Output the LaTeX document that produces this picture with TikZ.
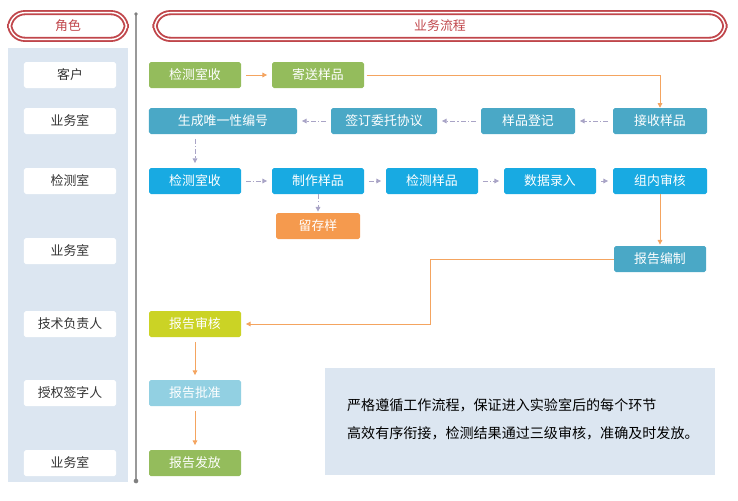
\documentclass[tikz,border=0pt]{standalone}
\usepackage{fontspec}
\setmainfont{Noto Sans CJK SC}
\usetikzlibrary{arrows.meta}
\definecolor{hdr}{HTML}{C0464B}
\definecolor{panel}{HTML}{DCE6F1}
\definecolor{cli}{HTML}{94BC5C}
\definecolor{biz}{HTML}{4AA8C6}
\definecolor{lab}{HTML}{18AAE2}
\definecolor{keep}{HTML}{F59A4E}
\definecolor{chk}{HTML}{CBD325}
\definecolor{apr}{HTML}{92D0E2}
\definecolor{oarr}{HTML}{F4A460}
\definecolor{garr}{HTML}{A9A4C6}
\tikzset{hdr/.style={draw=hdr,line width=1.6pt,double=white,double distance=1.2pt,rounded corners=13pt,minimum height=0.8cm,text=hdr,font=\fontsize{11}{13}\selectfont}}
\tikzset{role/.style={fill=white,rounded corners=1.5pt,minimum width=2.76cm,minimum height=0.78cm,text=black!80,font=\fontsize{11}{13}\selectfont}}
\tikzset{flowbox/.style={text=white,rounded corners=1.5pt,minimum height=0.78cm,font=\fontsize{11}{13}\selectfont}}
\tikzset{cli/.style={flowbox,fill=cli}}
\tikzset{biz/.style={flowbox,fill=biz}}
\tikzset{lab/.style={flowbox,fill=lab}}
\tikzset{keep/.style={flowbox,fill=keep}}
\tikzset{chk/.style={flowbox,fill=chk}}
\tikzset{apr/.style={flowbox,fill=apr}}
\tikzset{oa/.style={->,>={Triangle[length=4pt,width=4pt]},draw=oarr,line width=0.8pt,shorten >=4pt,shorten <=4pt}}
\tikzset{ga/.style={->,>={Triangle[length=4pt,width=4pt]},draw=garr,line width=0.8pt,dash pattern=on 4pt off 2pt on 1pt off 2pt,shorten >=4pt,shorten <=4pt}}
\begin{document}
\begin{tikzpicture}[x=0.03cm,y=-0.03cm]
    \useasboundingbox (0,0) rectangle (738,500);
    \fill[panel] (8,48) rectangle (128,482);
    \fill[panel] (325,368) rectangle (715,475);

    \node[hdr,minimum width=3.5cm] (hrole) at (68,26) {角色};
    \node[hdr,minimum width=17.1cm] (hflow) at (440,26) {业务流程};

    \coordinate (ltop) at (136,14);
    \coordinate (lbot) at (136,481);
    \draw[gray!80,line width=1.5pt] (ltop) -- (lbot);
    \fill[gray] (ltop) circle (1.6pt) (lbot) circle (2pt);

    \node[role] (r1) at (70,75) {客户};
    \node[role] (r2) at (70,121) {业务室};
    \node[role] (r3) at (70,181) {检测室};
    \node[role] (r4) at (70,251) {业务室};
    \node[role] (r5) at (70,324) {技术负责人};
    \node[role] (r6) at (70,393) {授权签字人};
    \node[role] (r7) at (70,463) {业务室};

    \node[cli,minimum width=2.76cm] (recv1) at (195,75) {检测室收};
    \node[cli,minimum width=2.76cm] (send) at (318,75) {寄送样品};

    \node[biz,minimum width=4.44cm] (code) at (223,121) {生成唯一性编号};
    \node[biz,minimum width=3.18cm] (sign) at (384,121) {签订委托协议};
    \node[biz,minimum width=2.82cm] (reg) at (528,121) {样品登记};
    \node[biz,minimum width=2.82cm] (accept) at (660,121) {接收样品};

    \node[lab,minimum width=2.76cm] (recv2) at (195,181) {检测室收};
    \node[lab,minimum width=2.76cm] (make) at (318,181) {制作样品};
    \node[lab,minimum width=2.76cm] (test) at (432,181) {检测样品};
    \node[lab,minimum width=2.76cm] (data) at (550,181) {数据录入};
    \node[lab,minimum width=2.82cm] (group) at (660,181) {组内审核};
    \node[keep,minimum width=2.52cm] (keep) at (318,226) {留存样};

    \node[biz,minimum width=2.76cm] (report) at (660,259) {报告编制};
    \node[chk,minimum width=2.76cm] (review) at (195,324) {报告审核};
    \node[apr,minimum width=2.76cm] (approve) at (195,393) {报告批准};
    \node[cli,minimum width=2.76cm] (issue) at (195,463) {报告发放};

    \node[anchor=west,align=left,font=\fontsize{12}{24}\selectfont] (note) at (343,419)
        {严格遵循工作流程，保证进入实验室后的每个环节\\高效有序衔接，检测结果通过三级审核，准确及时发放。};

    \draw[oa] (recv1) -- (send);
    \draw[oa,shorten <=2pt,shorten >=0pt] (send) -| (accept);
    \draw[ga] (accept) -- (reg);
    \draw[ga] (reg) -- (sign);
    \draw[ga] (sign) -- (code);
    \draw[ga] (code.south -| recv2) -- (recv2);
    \draw[ga] (recv2) -- (make);
    \draw[ga] (make) -- (test);
    \draw[ga] (test) -- (data);
    \draw[ga] (data) -- (group);
    \draw[ga,shorten <=0pt,shorten >=1pt] (make) -- (keep);
    \draw[oa,shorten <=0pt,shorten >=1pt] (group) -- (report);
    \draw[oa,shorten <=0pt] (report.west) -- ++(-183,0) |- (review);
    \draw[oa] (review) -- (approve);
    \draw[oa] (approve) -- (issue);
\end{tikzpicture}
\end{document}
